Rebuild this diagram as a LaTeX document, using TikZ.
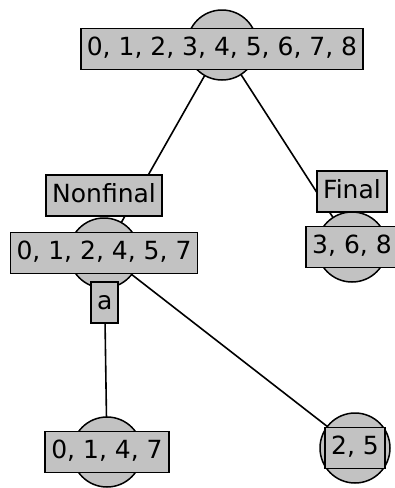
\documentclass[tikz,border=0pt]{standalone}
\usepackage{fontspec}
\setmainfont{DejaVu Sans}
\usetikzlibrary{positioning,backgrounds}

\begin{document}
\begin{tikzpicture}[x=1pt,y=-1pt,font=\fontsize{25}{30}\selectfont,
  state/.style={circle,draw,line width=1.5pt,fill=black!24,minimum size=70pt,inner sep=0pt},
  setbox/.style={rectangle,draw,line width=1.9pt,fill=black!24,inner xsep=6pt,inner ysep=0pt,
    minimum height=41pt,text height=18pt,text depth=5pt},
  edge/.style={line width=1.6pt}]
\useasboundingbox (0,0) rectangle (395,488);

%states
\node[state] (root) at (222,45) {};
\node[state] (nf) at (104,253) {};
\node[state] (fin) at (352,247) {};
\node[state] (left) at (107,452) {};
\node[state] (right) at (355,448) {};

%sets on top of the states
\node[setbox,yshift=-4pt] (rootset) at (root) {0, 1, 2, 3, 4, 5, 6, 7, 8};
\node[setbox] (nfset) at (nf) {0, 1, 2, 4, 5, 7};
\node[setbox] (finset) at (fin) {3, 6, 8};
\node[setbox] (leftset) at (left) {0, 1, 4, 7};
\node[setbox] (rightset) at (right) {2, 5};

%edge labels
\node[setbox,above=0pt of nf] (nonfinal) {Nonfinal};
\node[setbox,above=-2pt of fin] (final) {Final};
\path (nf.center) -- node[setbox,pos=.25] (a) {a} (left.center);

\begin{scope}[on background layer]
\draw[edge] (root.center) -- (nf.center);
\draw[edge] (root.center) -- (fin.center);
\draw[edge] (nf.center) -- (left.center);
\draw[edge] (nf.center) -- (right.center);
\end{scope}
\end{tikzpicture}
\end{document}
